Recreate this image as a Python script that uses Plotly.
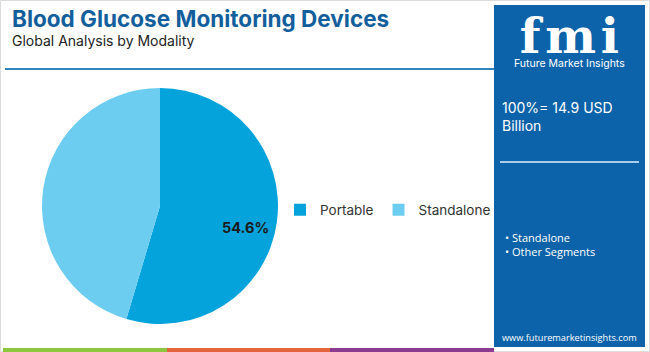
import plotly.graph_objects as go

W, H = 650, 352
categories = ["Portable", "Standalone"]
shares = [54.6, 45.4]
colors = ["#05a3db", "#6dcdf0"]
title = "Blood Glucose Monitoring Devices"
subtitle = "Global Analysis by Modality"
total_text = "100%= 14.9 USD<br>Billion"
bullets = ["• Standalone", "• Other Segments"]
url = "www.futuremarketinsights.com"

FONT = "Inter"
BLUE = "#0c63a9"

def px(x):
    return x / W

def py(y):
    return 1 - y / H

fig = go.Figure()
fig.add_trace(go.Pie(
    labels=categories, values=shares, sort=False, direction="clockwise", rotation=0,
    marker=dict(colors=colors, line=dict(width=0)),
    textinfo="none",
    domain=dict(x=[px(42), px(278)], y=[py(324), py(88)]),
    hoverinfo="label+percent", showlegend=True,
))

def rect(x0, x1, y0, y1, color, layer="above"):
    return dict(type="rect", xref="paper", yref="paper", x0=px(x0), x1=px(x1), y0=py(y1), y1=py(y0),
                fillcolor=color, line=dict(width=0), layer=layer)

def hline(x0, x1, y, color, width):
    return dict(type="line", xref="paper", yref="paper", x0=px(x0), x1=px(x1), y0=py(y), y1=py(y),
                line=dict(color=color, width=width))

shapes = [
    dict(type="rect", xref="paper", yref="paper", x0=px(0.5), x1=px(649.5), y0=py(351.5), y1=py(0.5),
         line=dict(color="#dcdcdc", width=1)),
    hline(5, 494, 69, "#2f86bf", 2),
    rect(3, 167, 348, 352, "#8dc63f"),
    rect(167, 330, 348, 352, "#e5643b"),
    rect(330, 494, 348, 352, "#8a3b8f"),
    rect(494, 645, 5, 347, BLUE, layer="below"),
    hline(500, 639, 162, "#a9cdea", 2),
]

def note(text, x, y, size, color="white", family=FONT, xanchor="left", align="left", yanchor="middle"):
    return dict(text=text, xref="paper", yref="paper", x=px(x), y=py(y), xanchor=xanchor,
                yanchor=yanchor, align=align, showarrow=False,
                font=dict(family=family, size=size, color=color))

logo = ("<span style='font-family:DejaVu Serif;font-size:48px'><b>f&#8202;m&#8202;i</b></span>"
        "<br>Future Market Insights")

ann = [
    note(f"<b>{title}</b>", 10, 18, 22.5, color="#135e9c"),
    note(subtitle, 10, 40, 14, color="#222222"),
    note(logo, 569, 6, 10.5, xanchor="center", align="center", yanchor="top"),
    note(total_text, 500, 116, 14),
    note("<br>".join(bullets), 503, 244, 11, family="Open Sans"),
    note(url, 569, 337, 9.2, family="Open Sans", xanchor="center", align="center"),
    note(f"<b>{shares[0]:.1f}%</b>", 245, 227, 14.5, color="#1a1a1a", xanchor="center", align="center"),
]

fig.update_layout(
    width=W, height=H, margin=dict(l=0, r=0, t=0, b=0),
    paper_bgcolor="white", plot_bgcolor="white",
    shapes=shapes, annotations=ann,
    legend=dict(orientation="h", x=px(280), y=py(210), xanchor="left", yanchor="middle",
                font=dict(family=FONT, size=13.5, color="#333333"), itemwidth=30,
                bgcolor="rgba(0,0,0,0)"),
)

fig.write_html("out.html")
